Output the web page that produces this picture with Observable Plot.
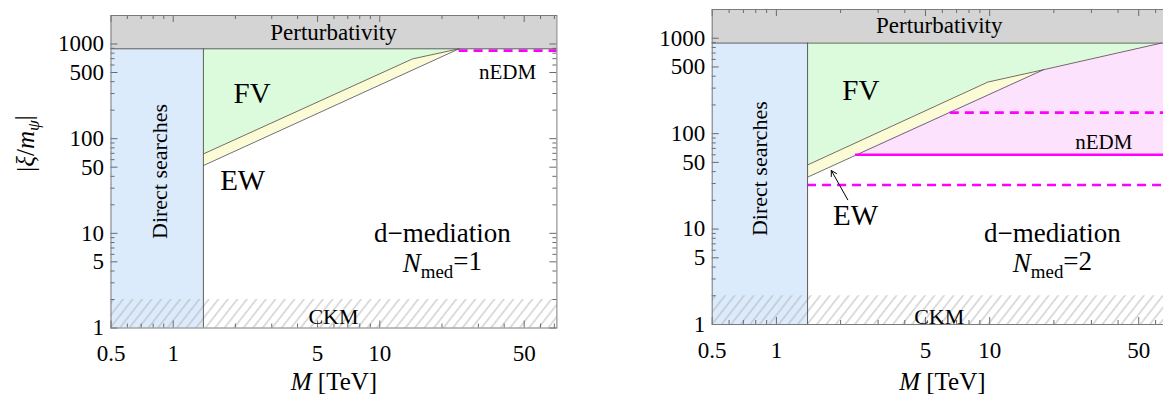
<!DOCTYPE html>
<html><head><meta charset="utf-8">
<script src="https://cdn.jsdelivr.net/npm/d3@7"></script>
<script src="https://cdn.jsdelivr.net/npm/@observablehq/plot@0.6"></script>
<style>
html,body{margin:0;padding:0;background:#fff;overflow:hidden;width:1163px;height:402px}
#wrap{position:relative;width:1163px;height:402px;overflow:hidden}
#wrap svg{position:absolute;top:0;overflow:visible}
</style></head><body><div id="wrap"></div>
<script>
// ---------- shared axis data ----------
const xDomain = [0.5, 72];
const yDomain = [1, 2000];
const perturbativityLimit = 890;
const directSearchMax = 1.4;
const ckmLimit = 2;
const xTickLabels = [0.5, 1, 5, 10, 50];
const xTickMinor = [0.6, 0.7, 0.8, 0.9, 2, 3, 4, 6, 7, 8, 9, 20, 30, 40, 60, 70];
const yTickLabels = [5, 10, 50, 100, 500, 1000];
const yTickBottom = [1];
const yTickMinor = [2, 3, 4, 6, 7, 8, 9, 20, 30, 40, 60, 70, 80, 90, 200, 300, 400, 600, 700, 800, 900];

// ---------- panel 1: N_med = 1 ----------
const p1FvM  = [1.4, 14.4, 24.2];
const p1FvXi = [69, 696, 890];
const p1EwM  = [1.4, 24.2];
const p1EwXi = [52, 890];
const p1NedmDashedXi = [851];
const p1NedmDashedFrom = [24.2];

// ---------- panel 2: N_med = 2 ----------
const p2FvM  = [1.4, 9.8, 17.9, 64];
const p2FvXi = [47, 347, 468, 890];
const p2EwM  = [1.4, 17.9];
const p2EwXi = [35, 468];
const p2NedmM   = [2.35, 17.9, 64, 72];
const p2NedmTop = [60, 468, 890, 890];
const p2NedmSolidXi = [60];
const p2NedmSolidFrom = [2.35];
const p2NedmDashedXi = [166, 29];
const p2NedmDashedFrom = [6.54, 1.4];

// ---------- annotation placement ----------
const p1Notes = [
  {t: "Perturbativity", m: 5.97, xi: 1330, size: 23, r: 0},
  {t: "FV", m: 2.41, xi: 297, size: 29, r: 0},
  {t: "EW", m: 2.17, xi: 36, size: 29, r: 0},
  {t: "nEDM", m: 41.5, xi: 502, size: 21, r: 0},
  {t: "Direct searches", m: 0.86, xi: 45, size: 22, r: -90},
  {t: "d\u2212mediation", m: 20.1, xi: 9.9, size: 27, r: 0},
  {t: "NMED=1", m: 20.1, xi: 4.8, size: 27, r: 0},
  {t: "CKM", m: 5.97, xi: 1.3, size: 22, r: 0}
];
const p2Notes = [
  {t: "Perturbativity", m: 5.8, xi: 1362, size: 23, r: 0},
  {t: "FV", m: 2.49, xi: 284, size: 29, r: 0},
  {t: "EW", m: 2.35, xi: 13.9, size: 29, r: 0},
  {t: "nEDM", m: 34.3, xi: 81.5, size: 21, r: 0},
  {t: "Direct searches", m: 0.84, xi: 43, size: 22, r: -90},
  {t: "d\u2212mediation", m: 19.7, xi: 9.0, size: 27, r: 0},
  {t: "NMED=2", m: 19.7, xi: 4.36, size: 27, r: 0},
  {t: "CKM", m: 5.8, xi: 1.19, size: 22, r: 0}
];
const p2Arrow = [{m1: 2.16, xi1: 20.3, m2: 1.81, xi2: 41.1}];

const FONT = "'Liberation Serif', 'Times New Roman', serif";
const C = {
  pert: "#d4d4d4", direct: "#dcebfb", fv: "#dcfbdc", ew: "#fbfbd5",
  nedm: "#fde2fd", mag: "#ff00ff", edge: "#4a4a4a", frame: "#7a7a7a", tick: "#6a6a6a"
};

function zip(a, b, ka, kb) { return a.map((v, i) => ({[ka]: v, [kb]: b[i]})); }

function panel(cfg) {
  const {left, width, height, ml, mr, mt, mb, id} = cfg;
  const W = width - ml - mr, H = height - mt - mb;
  const fv = zip(cfg.fvM, cfg.fvXi, "m", "xi");
  const ew = zip(cfg.ewM, cfg.ewXi, "m", "xi");
  const marks = [];
  // regions
  marks.push(Plot.rect([{m1: xDomain[0], m2: directSearchMax, y1: yDomain[0], y2: perturbativityLimit}],
    {x1: "m1", x2: "m2", y1: "y1", y2: "y2", fill: C.direct}));
  marks.push(Plot.rect([{m1: xDomain[0], m2: xDomain[1], y1: perturbativityLimit, y2: yDomain[1]}],
    {x1: "m1", x2: "m2", y1: "y1", y2: "y2", fill: C.pert}));
  const env = cfg.envM.map((m, i) => ({m, xi: cfg.envXi[i]}));
  marks.push(Plot.areaY(env, {x: "m", y1: "xi", y2: () => perturbativityLimit, fill: C.ew}));
  marks.push(Plot.areaY(fv, {x: "m", y1: "xi", y2: () => perturbativityLimit, fill: C.fv}));
  if (cfg.pinkM) {
    const pk = cfg.pinkM.map((m, i) => ({m, top: cfg.pinkTop[i], bot: cfg.solidXi[0]}));
    marks.push(Plot.areaY(pk, {x: "m", y1: "bot", y2: "top", fill: C.nedm}));
  }
  marks.push(Plot.line(fv, {x: "m", y: "xi", stroke: C.edge, strokeWidth: 0.8}));
  marks.push(Plot.line(ew, {x: "m", y: "xi", stroke: C.edge, strokeWidth: 0.8}));
  if (cfg.solidXi) {
    marks.push(Plot.ruleY(cfg.solidXi.map((y, i) => ({y, x1: cfg.solidFrom[i]})),
      {y: "y", x1: "x1", x2: () => xDomain[1], stroke: C.mag, strokeWidth: 2.6}));
  }
  marks.push(Plot.ruleY(cfg.dashedXi.map((y, i) => ({y, x1: cfg.dashedFrom[i]})),
    {y: "y", x1: "x1", x2: () => xDomain[1], stroke: C.mag, strokeWidth: 2.6, strokeDasharray: "9,6"}));
  marks.push(Plot.rect([{m1: xDomain[0], m2: xDomain[1], y1: yDomain[0], y2: ckmLimit}],
    {x1: "m1", x2: "m2", y1: "y1", y2: "y2", fill: `url(#${id})`}));
  marks.push(Plot.ruleX([directSearchMax], {x: d => d, y1: () => yDomain[0], y2: () => perturbativityLimit, stroke: "#5a5a5a", strokeWidth: 1}));
  marks.push(Plot.ruleY([perturbativityLimit], {y: d => d, stroke: "#5a5a5a", strokeWidth: 1}));
  const maj = 7, mn = 4;
  const majX = xTickLabels, majY = yTickBottom.concat(yTickLabels);
  marks.push(Plot.tickX(majX, {x: d => d, insetTop: H - maj, stroke: C.tick}));
  marks.push(Plot.tickX(xTickMinor, {x: d => d, insetTop: H - mn, stroke: C.tick}));
  marks.push(Plot.tickX(majX, {x: d => d, insetBottom: H - maj, stroke: C.tick}));
  marks.push(Plot.tickX(xTickMinor, {x: d => d, insetBottom: H - mn, stroke: C.tick}));
  marks.push(Plot.tickY(majY, {y: d => d, insetRight: W - maj, stroke: C.tick}));
  marks.push(Plot.tickY(yTickMinor, {y: d => d, insetRight: W - mn, stroke: C.tick}));
  marks.push(Plot.tickY(majY, {y: d => d, insetLeft: W - maj, stroke: C.tick}));
  marks.push(Plot.tickY(yTickMinor, {y: d => d, insetLeft: W - mn, stroke: C.tick}));
  marks.push(Plot.frame({stroke: C.frame, strokeWidth: 1}));
  // tick labels
  marks.push(Plot.text(xTickLabels, {x: d => d, frameAnchor: "bottom", dy: 17, lineAnchor: "top", text: d => String(d), fontSize: 23, fill: "#000"}));
  marks.push(Plot.text(yTickLabels, {y: d => d, frameAnchor: "left", dx: -7, textAnchor: "end", text: d => String(d), fontSize: 23, fill: "#000"}));
  marks.push(Plot.text(yTickBottom, {y: d => d, frameAnchor: "left", dx: -7, dy: 0, textAnchor: "end", text: d => String(d), fontSize: 23, fill: "#000"}));
  marks.push(Plot.text(["MTEV"], {frameAnchor: "bottom", dy: cfg.titleDy, fontSize: 25, fill: "#000"}));
  if (cfg.yTitle) {
    marks.push(Plot.text(["YTITLE"], {frameAnchor: "left", dx: -85, rotate: -90, fontSize: 25, fill: "#000"}));
  }
  for (const n of cfg.notes) {
    marks.push(Plot.text([n], {x: "m", y: "xi", text: "t", fontSize: n.size, rotate: n.r, fill: "#000"}));
  }
  if (cfg.arrow) {
    marks.push(Plot.arrow(cfg.arrow, {x1: "m1", y1: "xi1", x2: "m2", y2: "xi2", stroke: "#000", strokeWidth: 1, headLength: 9}));
  }
  const svg = Plot.plot({
    width, height, marginLeft: ml, marginRight: mr, marginTop: mt, marginBottom: mb,
    x: {type: "log", domain: xDomain, axis: null},
    y: {type: "log", domain: yDomain, axis: null},
    style: {fontFamily: FONT, fontSize: "22px", background: "transparent", color: "#000", overflow: "visible"},
    marks
  });
  const defs = document.createElementNS("http://www.w3.org/2000/svg", "defs");
  defs.innerHTML = `<pattern id="${id}" patternUnits="userSpaceOnUse" width="7.5" height="7.5" patternTransform="rotate(38)"><line x1="3.75" y1="-1" x2="3.75" y2="9" stroke="#a9a9a9" stroke-width="0.8"/></pattern>`;
  svg.insertBefore(defs, svg.firstChild);
  svg.querySelectorAll("text").forEach(t => {
    const s = t.textContent;
    if (s === "NMED=1" || s === "NMED=2") {
      t.innerHTML = `<tspan font-style="italic">N</tspan><tspan font-size="0.7em" dy="0.3em">med</tspan><tspan dy="-0.3em">=${s.slice(-1)}</tspan>`;
    } else if (s === "MTEV") {
      t.innerHTML = `<tspan font-style="italic">M</tspan> [TeV]`;
    } else if (s === "YTITLE") {
      t.innerHTML = `|<tspan font-style="italic">\u03BE</tspan>/<tspan font-style="italic">m</tspan><tspan font-style="italic" font-size="0.7em" dy="0.3em">\u03C8</tspan><tspan dy="-0.3em">|</tspan>`;
    }
  });
  svg.style.left = left + "px";
  document.getElementById("wrap").appendChild(svg);
}

panel({
  id: "hatch1", left: 0, width: 580, height: 402, ml: 110.5, mr: 23.6, mt: 15, mb: 74.5,
  fvM: p1FvM, fvXi: p1FvXi, ewM: p1EwM, ewXi: p1EwXi,
  envM: p1EwM, envXi: p1EwXi,
  dashedXi: p1NedmDashedXi, dashedFrom: p1NedmDashedFrom,
  notes: p1Notes, yTitle: true, titleDy: 62
});
panel({
  id: "hatch2", left: 580, width: 600, height: 402, ml: 131.7, mr: 8, mt: 9, mb: 78,
  fvM: p2FvM, fvXi: p2FvXi, ewM: p2EwM, ewXi: p2EwXi,
  envM: [p2EwM[0], p2EwM[1], p2FvM[3]], envXi: [p2EwXi[0], p2EwXi[1], p2FvXi[3]],
  pinkM: p2NedmM, pinkTop: p2NedmTop, solidXi: p2NedmSolidXi, solidFrom: p2NedmSolidFrom,
  dashedXi: p2NedmDashedXi, dashedFrom: p2NedmDashedFrom,
  notes: p2Notes, arrow: p2Arrow, yTitle: false, titleDy: 65
});
</script></body></html>
